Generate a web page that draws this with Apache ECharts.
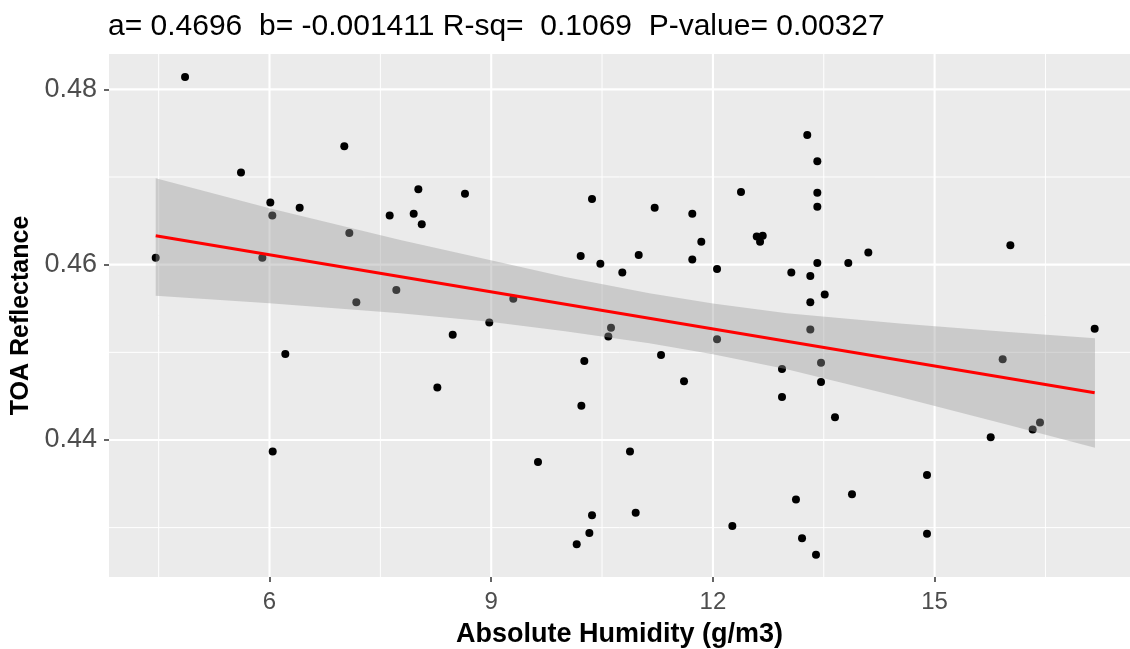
<!DOCTYPE html>
<html>
<head>
<meta charset="utf-8">
<script src="https://cdn.jsdelivr.net/npm/echarts@6/dist/echarts.min.js"></script>
<style>
  html, body { margin: 0; padding: 0; background: #ffffff; }
  #chart { width: 1130px; height: 649px; }
</style>
</head>
<body>
<div id="chart"></div>
<script>
// Observations: absolute humidity (g/m3) and TOA reflectance
const humidity = [
  4.857, 7.012, 5.614, 6.011, 6.038, 6.408, 7.626, 7.080, 4.460, 5.903,
  7.716, 7.175, 6.214, 6.043, 8.014, 7.951, 8.060, 8.645, 9.299, 8.974,
  10.364, 10.211, 10.477, 10.774, 10.996, 11.212, 11.721, 11.843, 11.721, 12.056,
  12.380, 12.593, 12.674, 12.638, 8.479, 8.271, 10.621, 10.585, 10.260, 10.220,
  11.298, 11.609, 12.056, 9.633, 10.878, 10.364, 10.955, 10.328, 10.157, 12.263,
  13.277, 13.413, 13.413, 13.413, 13.413, 13.061, 13.318, 13.832, 14.103, 13.513,
  13.318, 16.025, 13.318, 12.935, 13.463, 13.463, 12.935, 13.652, 17.166, 15.921,
  15.759, 16.327, 16.426, 14.897, 13.882, 13.124, 14.897, 13.206, 13.395
];
const reflectance = [
  0.4814, 0.4735, 0.4705, 0.4671, 0.4656, 0.4665, 0.4656, 0.4636, 0.4608, 0.4608,
  0.4571, 0.4557, 0.4498, 0.4387, 0.4686, 0.4658, 0.4646, 0.4681, 0.4561, 0.4534,
  0.4675, 0.4610, 0.4601, 0.4591, 0.4611, 0.4665, 0.4658, 0.4626, 0.4606, 0.4595,
  0.4683, 0.4632, 0.4633, 0.4626, 0.4520, 0.4460, 0.4528, 0.4518, 0.4490, 0.4439,
  0.4497, 0.4467, 0.4515, 0.4375, 0.4387, 0.4314, 0.4317, 0.4294, 0.4281, 0.4302,
  0.4748, 0.4718, 0.4682, 0.4666, 0.4602, 0.4591, 0.4587, 0.4602, 0.4614, 0.4566,
  0.4557, 0.4622, 0.4526, 0.4481, 0.4488, 0.4466, 0.4449, 0.4426, 0.4527, 0.4492,
  0.4403, 0.4412, 0.4420, 0.4360, 0.4338, 0.4332, 0.4293, 0.4288, 0.4269
];

// Linear fit coefficients (intercept, slope) and summary statistics
const fitA = 0.4696;
const fitB = -0.001411;
const fitRsq = '0.1069';
const fitP = '0.00327';

// Confidence band of the fit
const bandX     = [4.46,    6.00,    7.77,    8.98,    10.00,   11.14,   12.00,   13.00,   14.53,   16.00,   17.17];
const bandUpper = [0.46986, 0.46643, 0.46282, 0.46053, 0.45859, 0.45674, 0.45557, 0.45446, 0.45330, 0.45232, 0.45160];
const bandLower = [0.45646, 0.45560, 0.45446, 0.45350, 0.45239, 0.45103, 0.44977, 0.44806, 0.44490, 0.44172, 0.43912];

// Axis ticks
const xTicks = [6, 9, 12, 15];
const xMinorTicks = [4.5, 7.5, 10.5, 13.5, 16.5];
const yTicks = [0.44, 0.46, 0.48];
const yMinorTicks = [0.43, 0.45, 0.47];

const xRange = [3.828, 17.644];
const yRange = [0.42437, 0.48403];

const FONT = '"Liberation Sans", Arial, Helvetica, sans-serif';

const points = humidity.map((h, i) => [h, reflectance[i]]);
const xFitStart = Math.min(...humidity);
const xFitEnd = Math.max(...humidity);
const fitLine = [
  [xFitStart, fitA + fitB * xFitStart],
  [xFitEnd, fitA + fitB * xFitEnd]
];

const xMid = (xRange[0] + xRange[1]) / 2;
const yMid = (yRange[0] + yRange[1]) / 2;
// [x, y, orientation (0 = vertical, 1 = horizontal), major]
const gridLines = [
  ...xMinorTicks.map(v => [v, yMid, 0, 0]),
  ...yMinorTicks.map(v => [xMid, v, 1, 0]),
  ...xTicks.map(v => [v, yMid, 0, 1]),
  ...yTicks.map(v => [xMid, v, 1, 1])
];

const chart = echarts.init(document.getElementById('chart'), null, { renderer: 'canvas' });

chart.setOption({
  animation: false,
  backgroundColor: '#ffffff',
  title: {
    text: 'a= ' + fitA + '  b= ' + fitB + ' R-sq=  ' + fitRsq + '  P-value= ' + fitP,
    left: 103,
    top: 7,
    textStyle: { fontFamily: FONT, fontSize: 30, fontWeight: 'normal', color: '#000000' }
  },
  grid: {
    left: 109, right: 0, top: 54, bottom: 72,
    containLabel: false,
    outerBoundsMode: 'none',
    show: true, backgroundColor: '#EBEBEB', borderWidth: 0
  },
  xAxis: {
    type: 'value',
    min: xRange[0], max: xRange[1],
    name: 'Absolute Humidity (g/m3)',
    nameLocation: 'middle',
    nameGap: 44,
    nameTextStyle: { fontFamily: FONT, fontSize: 27, fontWeight: 'bold', color: '#000000' },
    axisLine: { show: false },
    splitLine: { show: false },
    axisTick: {
      show: true, customValues: xTicks, length: 5,
      lineStyle: { color: '#333333', width: 1.5 }
    },
    axisLabel: {
      customValues: xTicks, margin: 13,
      fontFamily: FONT, fontSize: 24, color: '#4D4D4D'
    }
  },
  yAxis: {
    type: 'value',
    min: yRange[0], max: yRange[1],
    name: 'TOA Reflectance',
    nameLocation: 'middle',
    nameRotate: 90,
    nameGap: 72,
    nameTextStyle: { fontFamily: FONT, fontSize: 25, fontWeight: 'bold', color: '#000000' },
    axisLine: { show: false },
    splitLine: { show: false },
    axisTick: {
      show: true, customValues: yTicks, length: 5,
      lineStyle: { color: '#333333', width: 1.5 }
    },
    axisLabel: {
      customValues: yTicks, margin: 12,
      fontFamily: FONT, fontSize: 27, color: '#4D4D4D',
      formatter: v => v.toFixed(2)
    }
  },
  series: [
    {
      // panel grid lines
      type: 'custom',
      silent: true,
      z: 1,
      data: gridLines,
      encode: { x: 0, y: 1 },
      renderItem: (params, api) => {
        const cs = params.coordSys;
        const p = api.coord([api.value(0), api.value(1)]);
        const major = api.value(3) === 1;
        const shape = api.value(2) === 0
          ? { x1: p[0], y1: cs.y, x2: p[0], y2: cs.y + cs.height }
          : { x1: cs.x, y1: p[1], x2: cs.x + cs.width, y2: p[1] };
        return {
          type: 'line', shape,
          style: { stroke: '#FFFFFF', lineWidth: major ? 2.1 : 1 }
        };
      }
    },
    {
      type: 'scatter',
      z: 2,
      data: points,
      symbol: 'circle',
      symbolSize: 8,
      itemStyle: { color: '#000000', opacity: 1 },
      silent: true
    },
    {
      // confidence band drawn over the points
      type: 'custom',
      silent: true,
      z: 3,
      data: [[bandX[0], bandUpper[0]]],
      encode: { x: 0, y: 1 },
      renderItem: (params, api) => {
        const upper = bandX.map((x, i) => api.coord([x, bandUpper[i]]));
        const lower = bandX.map((x, i) => api.coord([x, bandLower[i]])).reverse();
        return {
          type: 'polygon',
          shape: { points: upper.concat(lower) },
          style: { fill: 'rgba(153,153,153,0.4)', stroke: null }
        };
      }
    },
    {
      type: 'line',
      z: 4,
      data: fitLine,
      symbol: 'none',
      silent: true,
      lineStyle: { color: '#FF0000', width: 3 }
    }
  ]
});
</script>
</body>
</html>
